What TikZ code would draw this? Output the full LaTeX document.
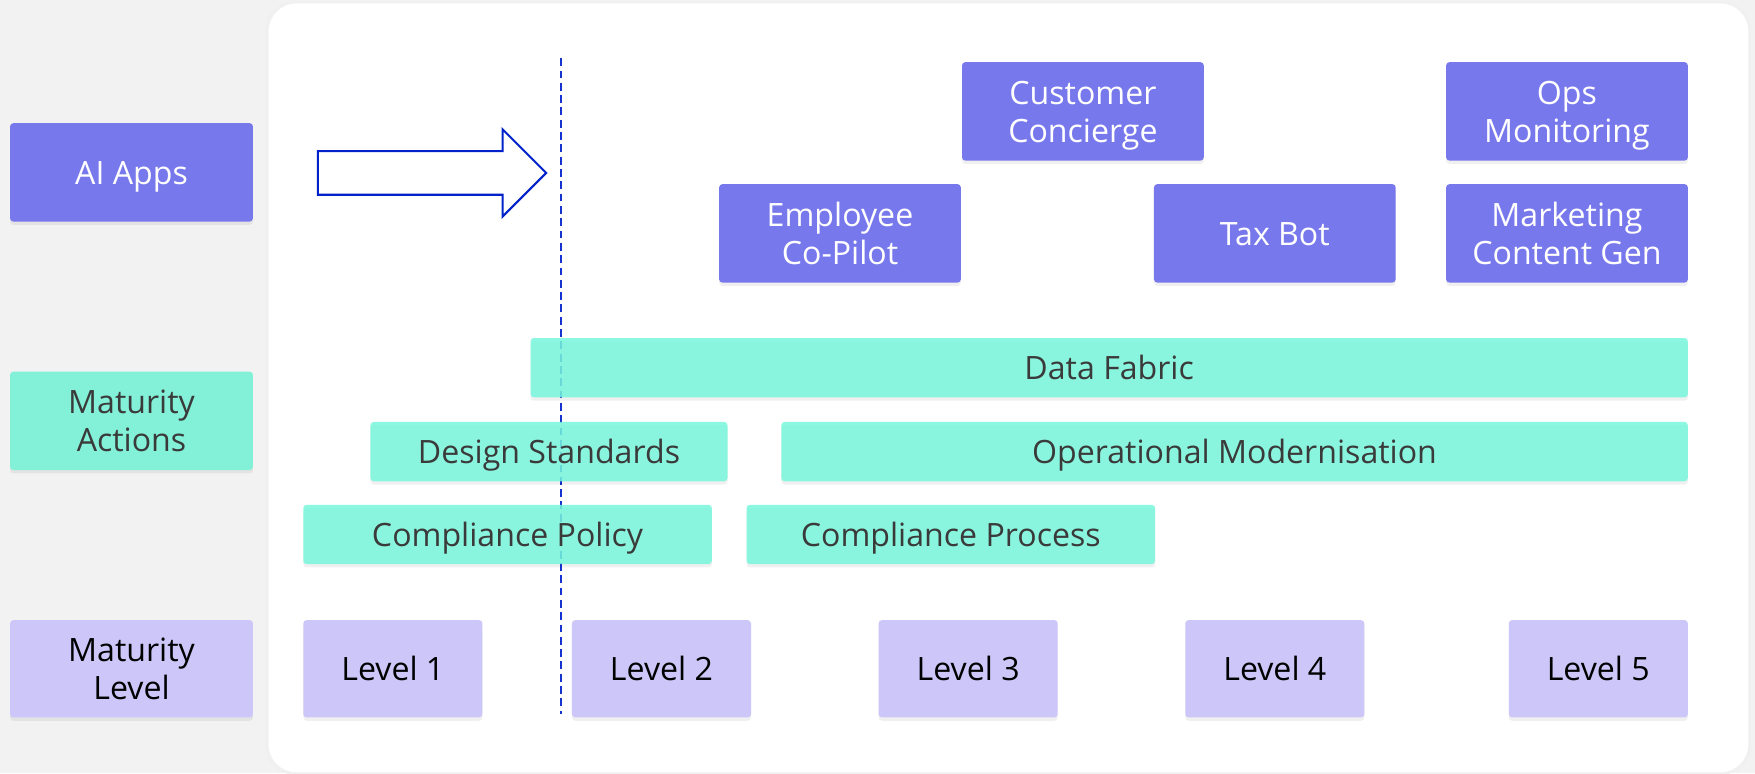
\documentclass[tikz,border=0pt]{standalone}
\usepackage{fontspec}
\setmainfont{Open Sans}
\usetikzlibrary{shadows}
\definecolor{bgcol}{RGB}{242,242,243}
\definecolor{appcol}{RGB}{120,120,237}
\definecolor{actcol}{RGB}{121,247,220}
\definecolor{actleft}{RGB}{131,240,216}
\definecolor{lvlcol}{RGB}{204,199,248}
\definecolor{txtdark}{RGB}{58,58,58}
\definecolor{arrowblue}{RGB}{0,34,200}
\definecolor{dashblue}{RGB}{20,52,205}
\tikzset{
  boxbase/.style={rectangle, rounded corners=3pt, inner sep=0pt, align=center,
    text height=21.5pt, text depth=0pt,
    font=\fontsize{28.7}{34}\selectfont,
    drop shadow={shadow xshift=0pt, shadow yshift=-3pt, opacity=0.06, fill=black}},
  twoline/.style={text height=55.5pt, text depth=0pt},
  appbox/.style={boxbase, fill=appcol, text=white},
  actbox/.style={boxbase, fill=actcol, fill opacity=0.85, text opacity=1, text=txtdark},
  actleftbox/.style={boxbase, fill=actleft, text=txtdark},
  lvlbox/.style={boxbase, fill=lvlcol, text=black},
}
\begin{document}
\begin{tikzpicture}[x=1pt, y=-1pt]
\fill[bgcol] (0,0) rectangle (1568,691);
\useasboundingbox (0,0) rectangle (1568,691);
% panel
\fill[black!6, rounded corners=25pt] (237,2) rectangle (1564,692);
\fill[white, rounded corners=25pt] (240,3) rectangle (1562,690);

% left column
\node[appbox, minimum width=217pt, minimum height=88pt] (aiapps) at (117.5,154) {AI Apps};
\node[actleftbox, twoline, minimum width=217pt, minimum height=88pt] (matact) at (117.5,376) {Maturity\\Actions};
\node[lvlbox, twoline, minimum width=217pt, minimum height=87pt] (matlvl) at (117.5,597.5) {Maturity\\Level};

% arrow
\draw[arrowblue, line width=1.8pt, fill=white, line join=miter]
  (284,135) -- (449,135) -- (449,115.5) -- (488,154.5) -- (449,193.5) -- (449,174) -- (284,174) -- cycle;

% dashed line
\coordinate (dtop) at (501.6,52);
\coordinate (dbot) at (501.6,638);
\draw[dashblue, line width=1.8pt, dash pattern=on 7pt off 4pt] (dtop) -- (dbot);

% app boxes
\node[appbox, twoline, minimum width=216pt, minimum height=88pt] (cc) at (967.5,99.5) {Customer\\Concierge};
\node[appbox, twoline, minimum width=216pt, minimum height=88pt] (ops) at (1400,99.5) {Ops\\Monitoring};
\node[appbox, twoline, minimum width=216pt, minimum height=88pt] (emp) at (750.5,208.5) {Employee\\Co-Pilot};
\node[appbox, minimum width=216pt, minimum height=88pt] (tax) at (1139,208.5) {Tax Bot};
\node[appbox, twoline, minimum width=216pt, minimum height=88pt] (mkt) at (1400,208.5) {Marketing\\Content Gen};

% action bars
\node[actbox, minimum width=1034pt, minimum height=53pt] (df) at (991,328.5) {Data Fabric};
\node[actbox, minimum width=319pt, minimum height=53pt] (ds) at (490.5,403.5) {Design Standards};
\node[actbox, minimum width=810pt, minimum height=53pt] (om) at (1103,403.5) {Operational Modernisation};
\node[actbox, minimum width=365pt, minimum height=53pt] (cpol) at (453.5,477.5) {Compliance Policy};
\node[actbox, minimum width=365pt, minimum height=53pt] (cpro) at (849.5,477.5) {Compliance Process};

% levels
\node[lvlbox, minimum width=160pt, minimum height=87pt] (l1) at (351,597.5) {Level 1};
\node[lvlbox, minimum width=160pt, minimum height=87pt] (l2) at (591,597.5) {Level 2};
\node[lvlbox, minimum width=160pt, minimum height=87pt] (l3) at (865,597.5) {Level 3};
\node[lvlbox, minimum width=160pt, minimum height=87pt] (l4) at (1139,597.5) {Level 4};
\node[lvlbox, minimum width=160pt, minimum height=87pt] (l5) at (1428,597.5) {Level 5};
\end{tikzpicture}
\end{document}
